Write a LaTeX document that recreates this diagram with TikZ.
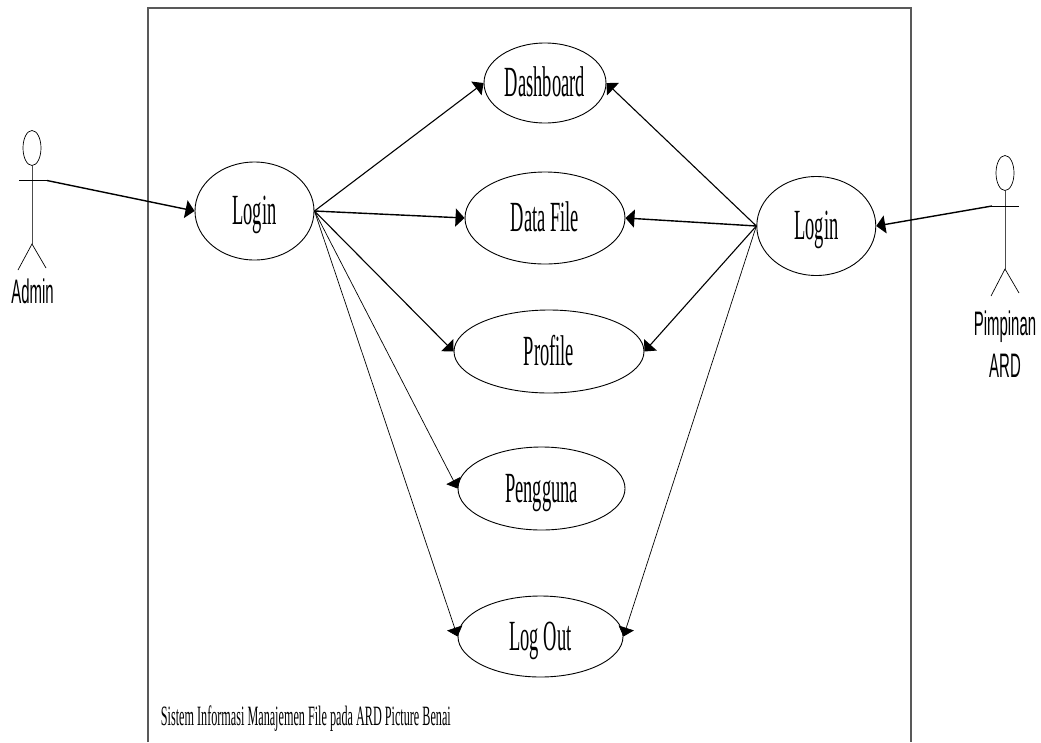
\documentclass[tikz,border=0pt]{standalone}
\usepackage{fontspec}
\usetikzlibrary{arrows.meta,shapes.geometric}
\newfontfamily\casefont[FakeStretch=0.43]{Liberation Serif}
\newfontfamily\notefont[FakeStretch=0.435]{Liberation Serif}
\newfontfamily\actorfont[FakeStretch=0.44]{Liberation Sans}
\begin{document}
\begin{tikzpicture}[x=1pt,y=-1pt]
  \useasboundingbox (0,0) rectangle (1041,742);
  \tikzset{UseCase/.style={draw,ellipse,inner sep=0pt,line width=0.9pt,text height=27pt,text depth=0pt,font=\casefont\fontsize{43}{43}\selectfont}}
  \tikzset{ActorHead/.style={draw,ellipse,inner sep=0pt,line width=0.7pt,minimum width=18pt,minimum height=35pt}}
  \tikzset{ActorName/.style={inner sep=0pt,align=center,font=\actorfont\fontsize{34}{42}\selectfont}}
  \draw[line width=1.2pt,black!65] (148,742) -- (148,8) -- (911,8) -- (911,742);
  \node[UseCase,minimum width=119pt,minimum height=98pt] (LoginA) at (254.5,211) {Login};
  \node[UseCase,minimum width=122pt,minimum height=80pt] (Dash) at (545,83) {Dashboard};
  \node[UseCase,minimum width=160pt,minimum height=92pt] (Data) at (545,218) {Data File};
  \node[UseCase,minimum width=190pt,minimum height=83pt] (Prof) at (549,351.5) {Profile};
  \node[UseCase,minimum width=167pt,minimum height=83pt] (Peng) at (541.5,488.5) {Pengguna};
  \node[UseCase,minimum width=165pt,minimum height=81pt] (Out) at (540.5,636.5) {Log Out};
  \node[UseCase,minimum width=119pt,minimum height=99pt] (LoginP) at (816.3,226) {Login};
  \node[inner sep=0pt,anchor=base west,font=\notefont\fontsize{28}{28}\selectfont] (Note) at (160.7,725) {Sistem Informasi Manajemen File pada ARD Picture Benai};
  \node[ActorHead] (AdminHead) at (32,148) {};
  \coordinate (AdminArmL) at (19,180.5);
  \coordinate (AdminArmR) at (47,180.5);
  \coordinate (AdminHip) at (32,244);
  \coordinate (AdminLegL) at (18,270);
  \coordinate (AdminLegR) at (46,268);
  \node[ActorName,anchor=base] (Admin) at (32.5,303) {Admin};
  \node[ActorHead] (BossHead) at (1005,173) {};
  \coordinate (BossArmL) at (992,206);
  \coordinate (BossArmR) at (1019,206);
  \coordinate (BossHip) at (1005,269);
  \coordinate (BossLegL) at (991,296);
  \coordinate (BossLegR) at (1019,293);
  \node[ActorName,anchor=base] (Boss) at (1005,377) {Pimpinan\\ARD};
  \tikzset{ActorLine/.style={line width=0.7pt}}
  \draw[ActorLine,black!70] (AdminHead) -- (AdminHip);
  \draw[ActorLine] (AdminArmL) -- (AdminArmR);
  \draw[ActorLine] (AdminLegL) -- (AdminHip) -- (AdminLegR);
  \draw[ActorLine,black!70] (BossHead) -- (BossHip);
  \draw[ActorLine] (BossArmL) -- (BossArmR);
  \draw[ActorLine] (BossLegL) -- (BossHip) -- (BossLegR);
  \tikzset{EdgeLine/.style={-{Triangle[length=9pt,width=18pt]},line width=1.4pt}}
  \draw[EdgeLine] (AdminArmR) -- (LoginA.west);
  \draw[EdgeLine] (BossArmL) -- (LoginP.east);
  \draw[EdgeLine] (LoginA.east) -- (Data.west);
  \draw[EdgeLine] (LoginP.west) -- (Data.east);
  \tikzset{EdgeLine/.style={-{Triangle[length=9pt,width=17pt]},line width=1.1pt}}
  \draw[EdgeLine] (LoginA.east) -- (Dash.west);
  \draw[EdgeLine] (LoginA.east) -- (Prof.west);
  \draw[EdgeLine] (LoginP.west) -- (Dash.east);
  \draw[EdgeLine] (LoginP.west) -- (Prof.east);
  \tikzset{EdgeLine/.style={-{Triangle[length=9pt,width=16pt]},line width=0.7pt}}
  \draw[EdgeLine] (LoginA.east) -- (Peng.west);
  \draw[EdgeLine] (LoginA.east) -- (Out.west);
  \draw[EdgeLine] (LoginP.west) -- (Out.east);
\end{tikzpicture}
\end{document}
